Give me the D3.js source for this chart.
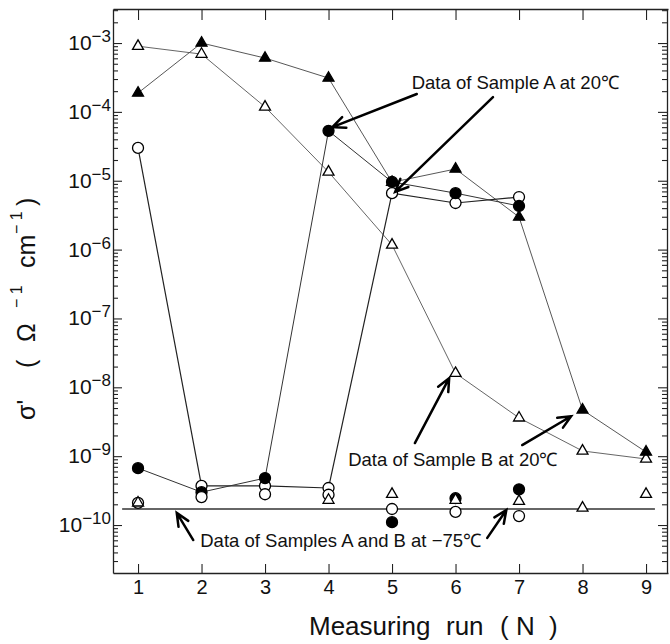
<!DOCTYPE html>
<html>
<head>
<meta charset="utf-8">
<script src="https://cdn.jsdelivr.net/npm/d3@7"></script>
<style>
    body { margin: 0; background: #fff; }
    svg { display: block; font-family: 'Liberation Sans', Arial, Helvetica, sans-serif; }
</style>
</head>
<body>
<div id="container"></div>
<script>
/* measuring runs */
const runs = [1, 2, 3, 4, 5, 6, 7, 8, 9];
const runsA = [1, 2, 3, 4, 5, 6, 7];

/* sample B at 20 C (triangles) */
const sampleBFilled = [1.88e-4, 1.0e-3, 6.05e-4, 3.1e-4, 9.5e-6, 1.48e-5, 2.97e-6, 4.7e-9, 1.15e-9];
const sampleBOpen = [9.0e-4, 6.9e-4, 1.18e-4, 1.34e-5, 1.17e-6, 1.6e-8, 3.6e-9, 1.19e-9, 9.1e-10];

/* sample A at 20 C (circles) */
const sampleAFilled = [6.7e-10, 3.0e-10, 4.8e-10, 5.3e-5, 9.6e-6, 6.6e-6, 4.3e-6];
const sampleAOpen = [3.0e-5, 3.7e-10, 3.7e-10, 3.45e-10, 6.6e-6, 4.75e-6, 5.8e-6];

/* samples A and B at -75 C (not connected) */
const coldAOpen = [2.1e-10, 2.55e-10, 2.8e-10, 2.75e-10, 1.71e-10, 1.55e-10, 1.35e-10];
const coldAFilled = [null, null, null, null, 1.1e-10, 2.45e-10, 3.3e-10];
const coldBOpen = [2.1e-10, null, null, 2.3e-10, 2.8e-10, 2.3e-10, 2.22e-10, 1.77e-10, 2.8e-10];
const coldLevel = 1.71e-10;
const coldSpan = [0.75, 9.14];

const yMajors = [1e-10, 1e-9, 1e-8, 1e-7, 1e-6, 1e-5, 1e-4, 1e-3];
const yExponents = ['−10', '−9', '−8', '−7', '−6', '−5', '−4', '−3'];

/* annotation texts and arrows, in data coordinates [run, sigma] */
const noteTexts = ['Data of Sample A at 20℃', 'Data of Sample B at 20℃', 'Data of Samples A and B at −75℃'];
const notePlaces = [[5.31, 2.15e-4], [4.31, 7.2e-10], [1.98, 4.8e-11]];
const arrowTails = [[5.39, 1.82e-4], [6.59, 1.64e-4], [5.36, 1.55e-9], [7.05, 1.45e-9], [1.87, 6.05e-11], [6.50, 6.5e-11]];
const arrowTips = [[4.06, 6.0e-5], [5.05, 6.9e-6], [5.90, 1.36e-8], [7.82, 3.8e-9], [1.61, 1.5e-10], [6.80, 1.65e-10]];

const width = 670, height = 644;
const margin = { top: 9, right: 2, bottom: 71, left: 113 };

const svg = d3.select('#container').append('svg')
    .attr('width', width)
    .attr('height', height);

const x = d3.scaleLinear().domain([0.606, 9.346]).range([margin.left, width - margin.right]);
const y = d3.scaleLog().domain([2.01e-11, 3.12e-3]).range([height - margin.bottom, margin.top]);

const minors = y.ticks().filter((v) => !yMajors.some((m) => Math.abs(v / m - 1) < 1e-6));

/* axes: every tick points inward */
function styleAxis(g) {
    g.select('.domain').attr('stroke', '#222').attr('stroke-width', 1.3);
    g.selectAll('.tick line').attr('stroke', '#222').attr('stroke-width', 1.1);
}

svg.append('g')
    .attr('transform', `translate(0,${height - margin.bottom})`)
    .call(d3.axisBottom(x).tickValues(runs).tickSize(-9).tickSizeOuter(0).tickPadding(7))
    .call(styleAxis)
    .call((g) => g.selectAll('.tick text').attr('font-size', 20).attr('fill', '#111').attr('font-family', null));

svg.append('g')
    .attr('transform', `translate(0,${margin.top})`)
    .call(d3.axisTop(x).tickValues(runs).tickSize(-11).tickSizeOuter(0).tickFormat(''))
    .call(styleAxis);

[[d3.axisLeft, margin.left], [d3.axisRight, width - margin.right - 1]].forEach(([axis, pos]) => {
    svg.append('g')
        .attr('transform', `translate(${pos},0)`)
        .call(axis(y).tickValues(yMajors).tickSize(-9).tickSizeOuter(0).tickFormat(''))
        .call(styleAxis);
    svg.append('g')
        .attr('transform', `translate(${pos},0)`)
        .call(axis(y).tickValues(minors).tickSize(-5).tickSizeOuter(0).tickFormat(''))
        .call(styleAxis)
        .call((g) => g.select('.domain').remove());
});

/* power-of-ten labels */
const yLabels = svg.append('g').attr('class', 'y-labels')
    .selectAll('text')
    .data(yMajors)
    .enter().append('text')
    .attr('x', margin.left - 2)
    .attr('y', (d) => y(d) + 7)
    .attr('text-anchor', 'end')
    .attr('fill', '#111');
yLabels.append('tspan').attr('font-size', 21).text('10');
yLabels.append('tspan').attr('font-size', 17).attr('dy', -8).text((d, i) => yExponents[i]);

/* axis titles (pieces placed along the reading direction) */
const yTitle = svg.append('text')
    .attr('transform', 'translate(35,420) rotate(-90)')
    .attr('font-size', 25)
    .attr('fill', '#111');
yTitle.append('tspan').attr('x', 0).text('σ\'');
yTitle.append('tspan').attr('x', 52).text('(');
yTitle.append('tspan').attr('x', 78).text('Ω');
yTitle.append('tspan').attr('x', 112).attr('dy', -13).attr('font-size', 16).text('−  1');
yTitle.append('tspan').attr('x', 152).attr('dy', 13).text('cm');
yTitle.append('tspan').attr('x', 186).attr('dy', -13).attr('font-size', 16).text('−  1');
yTitle.append('tspan').attr('x', 214).attr('dy', 13).text(')');

const xTitle = svg.append('text')
    .attr('y', 635)
    .attr('font-size', 26)
    .attr('fill', '#111');
xTitle.append('tspan').attr('x', 309).text('Measuring');
xTitle.append('tspan').attr('x', 446).text('run');
xTitle.append('tspan').attr('x', 500).text('(');
xTitle.append('tspan').attr('x', 516).text('N');
xTitle.append('tspan').attr('x', 549).text(')');

/* connecting lines */
const line = d3.line().x((d) => x(d[0])).y((d) => y(d[1]));
const plot = svg.append('g').attr('class', 'plot');

[[runs, sampleBOpen, '#555', 0.9], [runs, sampleBFilled, '#444', 0.9],
 [runsA, sampleAOpen, '#222', 1.2], [runsA, sampleAFilled, '#333', 1]].forEach(([xs, ys, color, w]) => {
    plot.append('path')
        .attr('d', line(d3.zip(xs, ys)))
        .attr('fill', 'none')
        .attr('stroke', color)
        .attr('stroke-width', w);
});

plot.append('line')
    .attr('x1', x(coldSpan[0])).attr('x2', x(coldSpan[1]))
    .attr('y1', y(coldLevel)).attr('y2', y(coldLevel))
    .attr('stroke', '#333')
    .attr('stroke-width', 1.3);

/* markers */
const tri = d3.symbol().type(d3.symbolTriangle).size(52);
function drawMarkers(xs, ys, shape, filled) {
    const pts = d3.zip(xs, ys).filter((d) => d[1] != null);
    const sel = plot.append('g').selectAll('.m').data(pts).enter();
    const common = (s) => s
        .attr('fill', filled ? '#000' : '#fff')
        .attr('stroke', '#000')
        .attr('stroke-width', 1.3);
    if (shape === 'circle') {
        sel.append('circle')
            .attr('cx', (d) => x(d[0]))
            .attr('cy', (d) => y(d[1]))
            .attr('r', 5.5)
            .call(common);
    } else {
        sel.append('path')
            .attr('d', tri)
            .attr('transform', (d) => `translate(${x(d[0])},${y(d[1])})`)
            .call(common);
    }
}

drawMarkers(runs, sampleBOpen, 'triangle', false);
drawMarkers(runs, sampleBFilled, 'triangle', true);
drawMarkers(runsA, sampleAOpen, 'circle', false);
drawMarkers(runsA, sampleAFilled, 'circle', true);
drawMarkers(runsA, coldAOpen, 'circle', false);
drawMarkers(runsA, coldAFilled, 'circle', true);
drawMarkers(runs, coldBOpen, 'triangle', false);

/* annotations */
const notes = svg.append('g').attr('class', 'notes');
notes.selectAll('text')
    .data(noteTexts)
    .enter().append('text')
    .attr('x', (d, i) => x(notePlaces[i][0]))
    .attr('y', (d, i) => y(notePlaces[i][1]))
    .attr('font-size', 18.5)
    .attr('fill', '#111')
    .text((d) => d);

arrowTails.forEach((tail, i) => {
    const x0 = x(tail[0]), y0 = y(tail[1]);
    const x1 = x(arrowTips[i][0]), y1 = y(arrowTips[i][1]);
    const ang = Math.atan2(y0 - y1, x0 - x1);
    const len = 14, spread = 0.42;
    const arms = [ang - spread, ang + spread].map((a) => [x1 + len * Math.cos(a), y1 + len * Math.sin(a)]);
    notes.append('path')
        .attr('d', `M${x0},${y0}L${x1},${y1}M${arms[0][0]},${arms[0][1]}L${x1},${y1}L${arms[1][0]},${arms[1][1]}`)
        .attr('fill', 'none')
        .attr('stroke', '#000')
        .attr('stroke-width', 2.5)
        .attr('stroke-linecap', 'round')
        .attr('stroke-linejoin', 'miter');
});
</script>
</body>
</html>
